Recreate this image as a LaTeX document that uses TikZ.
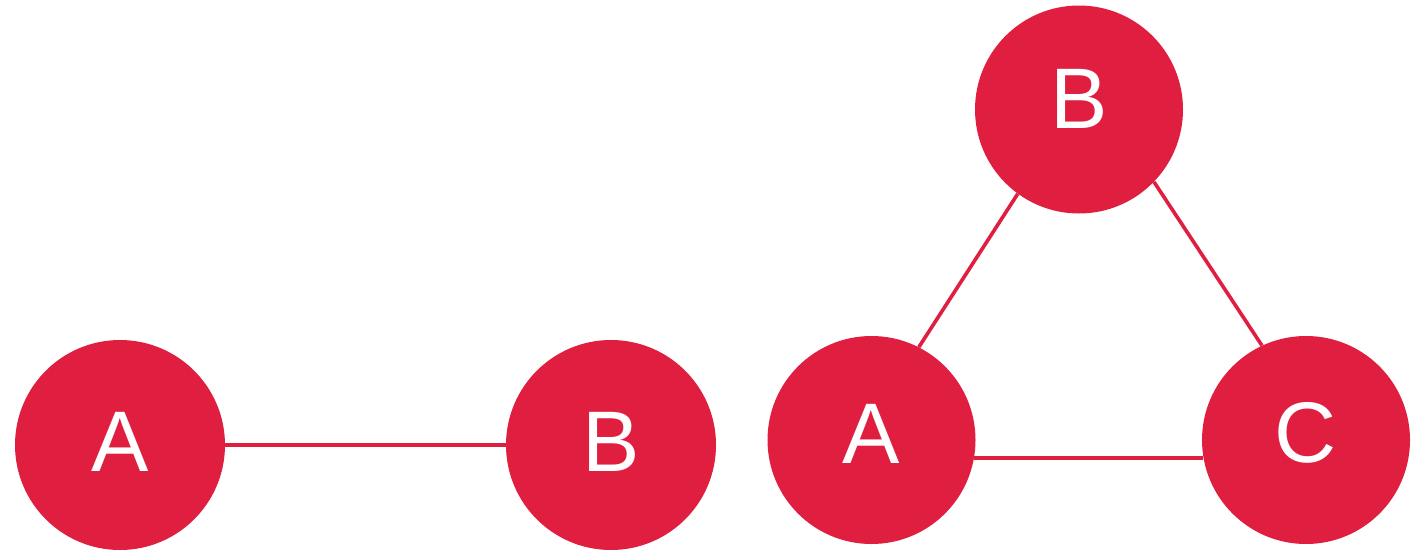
\documentclass[tikz,border=0pt]{standalone}
\usepackage{fontspec}
\setmainfont{Liberation Sans}
\definecolor{nodered}{RGB}{224,30,63}
\begin{document}
\begin{tikzpicture}[x=1pt,y=-1pt,
  vert/.style={circle,fill=nodered,draw=none,minimum size=208pt,inner sep=0pt},
  lab/.style={text=white,font=\fontsize{86}{100}\selectfont,inner sep=0pt},
  edge/.style={draw=nodered,line width=3.6pt}]
\useasboundingbox (0,0) rectangle (1421,552);
% left graph
\node[vert,minimum size=210pt] (LA) at (120,445) {};
\node[vert,minimum size=210pt] (LB) at (611,445) {};
\node[lab] (LAt) at ([yshift=3pt]LA.center) {A};
\node[lab] (LBt) at ([yshift=3pt]LB.center) {B};
\draw[edge] (LA) -- (LB);
% right graph
\node[vert] (RA) at (871.5,440) {};
\node[vert] (RB) at (1079,109.5) {};
\node[vert] (RC) at (1306,440) {};
\node[lab] (RAt) at ([yshift=6pt]RA.center) {A};
\node[lab] (RBt) at ([yshift=11pt]RB.center) {B};
\node[lab] (RCt) at ([yshift=7pt]RC.center) {C};
\draw[edge] (RB.234.5) -- (RA.63.4);
\draw[edge] (RB.316.4) -- (RC.115.8);
\draw[edge] (RA.-10) -- (RC.190);
\end{tikzpicture}
\end{document}
